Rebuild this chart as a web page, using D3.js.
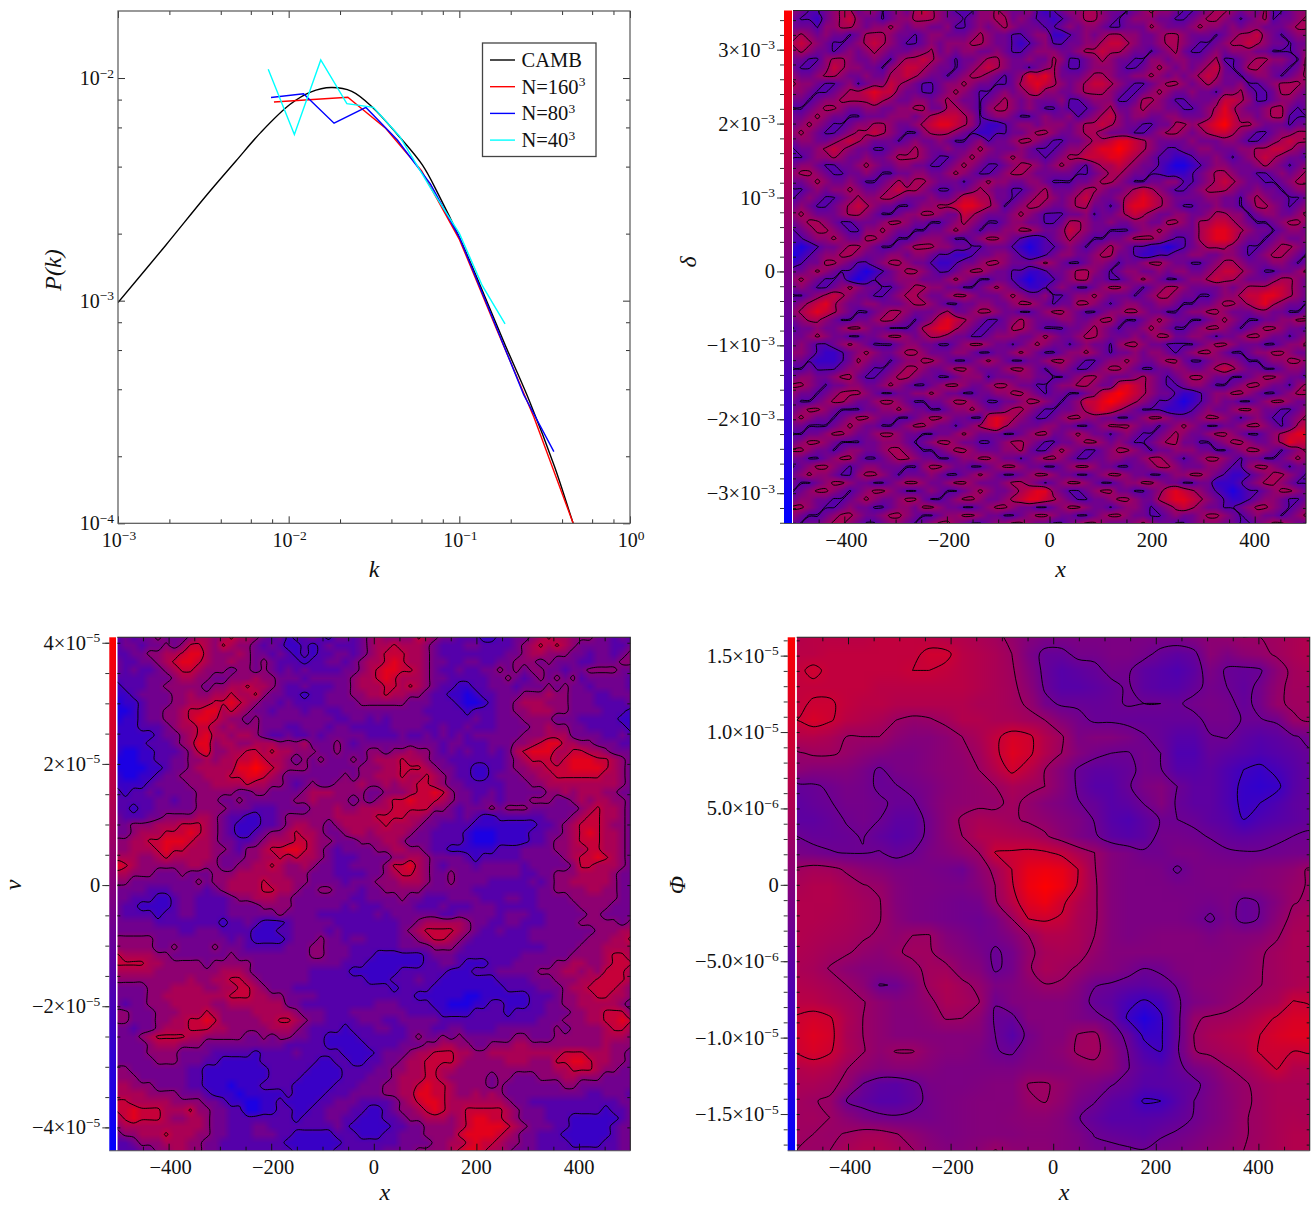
<!DOCTYPE html>
<html>
<head>
<meta charset="utf-8">
<script src="https://cdn.jsdelivr.net/npm/d3@7"></script>
<style>
  body { margin: 0; background: #fff; }
  svg { display: block; }
  text { font-family: "Liberation Serif", serif; fill: #111; }
</style>
</head>
<body>
<script>
// power spectrum curves
const kCamb = [0.001, 0.0019, 0.00332, 0.00491, 0.00687, 0.01016, 0.01343, 0.01774, 0.02344, 0.03105, 0.04335, 0.0607, 0.0759, 0.1002, 0.1325, 0.1853, 0.2588, 0.362, 0.4656, 0.506];
const pCamb = [9.8e-4, 1.77e-3, 2.99e-3, 4.24e-3, 5.7e-3, 7.6e-3, 8.64e-3, 9.06e-3, 8.71e-3, 7.38e-3, 5.58e-3, 4.07e-3, 2.97e-3, 1.92e-3, 1.17e-3, 6.34e-4, 3.51e-4, 1.79e-4, 9.95e-5, 8.3e-5];
const k160 = [0.0082, 0.0222, 0.0371, 0.06, 0.1002, 0.1656, 0.274, 0.4656, 0.506];
const p160 = [7.8e-3, 8.2e-3, 5.93e-3, 3.84e-3, 1.88e-3, 7.43e-4, 2.99e-4, 9.95e-5, 8.3e-5];
const k80 = [0.00788, 0.01222, 0.01845, 0.02835, 0.04335, 0.0678, 0.1002, 0.1567, 0.2383, 0.358];
const p80 = [8.17e-3, 8.5e-3, 6.27e-3, 7.38e-3, 5.27e-3, 3.34e-3, 1.92e-3, 8.36e-4, 3.78e-4, 2.1e-4];
const k40 = [0.00759, 0.0108, 0.01542, 0.02193, 0.0314, 0.0446, 0.0678, 0.1002, 0.1361, 0.1853];
const p40 = [1.096e-2, 5.58e-3, 1.205e-2, 7.67e-3, 7.38e-3, 5.48e-3, 3.21e-3, 2.0e-3, 1.17e-3, 7.87e-4];
const legendNames = ["CAMB", "N=160", "N=80", "N=40"];
const legendSups = ["", "3", "3", "3"];

const xTicks = [-400, -200, 0, 200, 400];

// density field, one digit per cell, top row first (0 = scale minimum, 9 = scale maximum)
const deltaMin = -3.41e-3, deltaMax = 3.53e-3;
const deltaLevels = [-1e-3, 1e-3];
const deltaTicks = [3e-3, 2e-3, 1e-3, 0, -1e-3, -2e-3, -3e-3];
const deltaTickBases = ["3×10", "2×10", "10", "0", "−1×10", "−2×10", "−3×10"];
const deltaTickSups = ["−3", "−3", "−3", "", "−3", "−3", "−3"];
const deltaRows = [
"5433456645534546765433355654453234556654434565543345665454633455",
"4332456754434556665443455664543323456654345554433456654345634456",
"4443556654556545544533454565444334545543344465444565545455444566",
"5654544346665443455444565443345522345456655445665444345667543455",
"6765433456765433454555665443234533445567765445665433456676544344",
"5654434545654445564545544543345554456676654434564334545554433345",
"4433566544543566765434456654454465334565443355455445633456655436",
"4334576554435677654434567654434564334555433456545456743466544346",
"5445665445446676544345665434587864445665445565454567644345543456",
"6554334534557654334556544334678765456776543345665456544533456665",
"5543345667877544334565433454567554456665433456544544355643346654",
"4434556666765445545654434565454445334555334665433444577653345544",
"3345665445544556644665435665454334333456445655443345686544566434",
"4456544334445554567776534554334544534567545544554445787554566333",
"4565433455665445678876532234554555456676544334466567897665444344",
"5654334566765433566654322334456654456654443345665456776543345566",
"4554456765444345445433453445665433445667887654444544455433456766",
"3445676544334556544544565444543334556788987654334455444556677654",
"3345565445445666543345654456544345667778876543322344543456765443",
"4554334456544554433456543345665456543566765443211234554445654345",
"5665433445433445544565433456654444433456654433222345665443345456",
"4456544543345656654443456554455433344566543344553345676544334566",
"3345455654456766543344565443345644456654456765433456665445443455",
"3454334565566544454457766443456654567544567876544445544356544334",
"4543345676544334556678876534566544566443478876543344544346654345",
"5654445665433455665447654445654333445344567654455445665534554456",
"4566543344456654433456543345544334665445445544665466776543345665",
"3456654335565443344565434455665445765443334556544467887654434554",
"3345565446654334555433456654322345654334456665433467887544345445",
"2123445665433456665544334443212334543456543322123456665433456654",
"1234556654445545543322344554322345544566443223344554455434566543",
"2344665433456654432234456654445654334554344566544334566544455434",
"4456543321234566543345665443322344566543455445455445677654334456",
"5654334212344555444565433443212234566443345654334556766544456654",
"4543345654433456655443345654322345433456654345665444454566677654",
"3345676544334566544566544456544533455654443456654433455677887654",
"4567865445544456654334455445665434466543455445543344566567865443",
"5678765433456654445644566544334566543345566544334556654445544334",
"4566543344566543457876543345654445544566433456544334565433445566",
"3445445665443334678865433446654333445654344565433456654345665443",
"4456544334456654566544334555445654456654445456644554344566544345",
"4543345654333455443345665443456544345443566544333345665444334556",
"5543223456544566544455433445654334556543445455434566543345566544",
"4432223465443455665433456543344566543345565445664334555433455665",
"3343334554334566544566544456654345433456654334455445676544334554",
"4554456643345665443345553444554433456654445654345665443345665443",
"6654344554456543345665445665443345566544787654334554334566544356",
"5443456665433445565443344556654344334578987654432234556654334566",
"4334566544566543344566543344566543457789876543321234544334566544",
"4566543334455654433455654456654334456787654333222345445665443345",
"5654434566544334566544337876543345665544334566544456654345433456",
"4433345654433456654434567865444554433456665443456543344566543467",
"3344566544566544334456544433456644565443454334565445665433456788",
"4566543334455543456654433456654334456654543345664433456654456877",
"6654434554456654334566544455643356543345665434455544334566543456",
"4433456643345665443345566544345665433445544566543456654344334565",
"3456654345544433566544334566544334566544334456654445543356654344",
"4565543356654344454334565433456654433456654433455665432234566543",
"4334566544334566544566544456654345665433455665443344222345665433",
"3456654345665433454334565445678854334566443345787654321233456654",
"4554433456544566433456654456788765433445665446788765432234554334",
"6654334544334554665443345665443345665443455434567654433456654345",
"5433456654456654334556654433456654433456654433454456654345443456",
"4344566543345543456654334556654433456654445654433455544334566544"
];

// velocity field, one digit per cell, top row first
const velocityMin = -4.385e-5, velocityMax = 4.09e-5;
const velocityLevels = [-2e-5, 0, 2e-5];
const velocityTicks = [4e-5, 2e-5, 0, -2e-5, -4e-5];
const velocityTickBases = ["4×10", "2×10", "0", "−2×10", "−4×10"];
const velocityTickSups = ["−5", "−5", "", "−5", "−5"];
const velocityRows = [
"3434454445665676654342334324434565555765443332233445676655544343",
"3443445457765765543432232343334566766654333443333456767654444334",
"3344556678865556544343232334434567776654333333334456655544344345",
"4334456788765565545433323344345667876654433443344555454443344455",
"4343345677655545545434343333445678877654334334454545544344555544",
"3333444566554455565544434444456678766654433333445434545453444443",
"2333445555545566766543343334456667767654332233444344454544344443",
"2234444556556676675443323344455667665543322123344455565544433444",
"1223444556667787654434333344445555554443332112344566655544433334",
"1123445567788676544344434433444444444433333233344556665544443332",
"1223445567887655454444444443344343444443333343344455554443333322",
"2223334566776565554443344434433333444433433433344445565544333332",
"2222234456786656654334334344444333343343434344444455566644443343",
"2222333456885665566655564445434444444444344333444556788665544433",
"2112233345785566776766555445444554556554343433434678886677665444",
"1112233445565667787665454544454566676654433333334567776788877654",
"1111223445666668898765554444445556677765443322334556677788887654",
"2112234455566677887654444444545566676676543322344455667777776654",
"2222344445556666766554345445556556566776544333334445566666666654",
"3233434444555554455444456665555445556778754433434444455656665544",
"3333344344555445444444556555545456778777654434434445554456566554",
"3323344444555544433344445556556666777775543444545554444445676654",
"4333445555665433223345555556666677776654443432233333344456776654",
"4455566677765432223345665545666667666544333322222222334567776554",
"4456667778765432234556766544566566665443333211122223344567876654",
"5566778887665443345666776554445556654443333211122223345567776654",
"5566678776665543556778876543444455665543322222233344445566776654",
"6665567666665444556676766543334444556654444323333344444567787654",
"8765555556655445566765565443344445778654344434444434444457766654",
"6655544454445556666665554443333445677654454444444433445556666544",
"5544444444545566667666554444344455566654454444333334345566666544",
"4444333444434566667766544554443445555544444433333333445555665544",
"4433322344333345566655444444433444454433344443334433444455555544",
"4332222344333344445555444444343334444333433344433333444445555444",
"4333323344333344444454444333333343444444334444434443344444554444",
"4444433333333233432223444443333333344566666544334433344445555545",
"4444444433444333322233444434333333345677776543343334444444455566",
"5555544444444434322223444544344333344567765433333334444444555667",
"5555544544445444333334445544433333344445554333333333344445556666",
"7666655444444454444444445544433322222234443333333344444455556776",
"7777665555545555544444444444333222222233443222333444445566556777",
"6666655555555666544444443333322222233333322233344444555665657776",
"5555555556556677654444443333333222333433222222233334445556677776",
"4444555666655667765444333333333333233332222222223333444566777765",
"4444556666666677766554444333333333333222222112222223334556677665",
"4344555666665566666664433333333344433332211122332223344556666654",
"5544455566676555566666544433344444443333222233332333344455667775",
"5544455667787555556677654433334443344444333333333333444555667787",
"4434456667776655555666543333233344334443344333344444445455556776",
"4445677776655555445455443322223333334544545444444554445555556665",
"4444566655544444444443333322222333344455665544555665555555556555",
"4444555544443333323333433333222234445667776655666666666777666554",
"4444455544433222223333333223322334456677776555556665557788766554",
"5544444443322222222333332222333344556677665555555555556677765544",
"5554444443322222222333322222333444566677655555455444555665554444",
"6655544443322212223333222223334445566787765555454444444554444444",
"6666555544432221222223222233344445566887765565654444444444334443",
"7766666555544322112232222334443333456788766666665443333333333344",
"7787776667554433112233223344433223455678766777776544433333332334",
"6787776556654433333333233344332223345566656788776544433322222234",
"5666666666654433344333333334322222334455556788887654443322222344",
"4556667666554433344433222223332223344455557888876544333222222344",
"3345556665544333333332222222333333344445566787765544333322223344",
"3334455665544333333333222223333334444555567887665444333333333344"
];

// potential field in units of 1e-6, top row first
const phiMin = -17.4, phiMax = 16.2;
const phiLevels = [-9, -3, 3, 9];
const phiTicks = [15, 10, 5, 0, -5, -10, -15];
const phiTickBases = ["1.5×10", "1.0×10", "5.0×10", "0", "−5.0×10", "−1.0×10", "−1.5×10"];
const phiTickSups = ["−5", "−5", "−6", "", "−6", "−5", "−5"];
const phiRows = [
[6,7,7,7,7,8,8,8,7,6,6,5,4,2,0,-1,-1,-1,-1,-1,-1,-1,-1,-1,0,1,2,3,3,4,5,6],
[7,7,8,8,8,8,8,8,10,10,7,6,5,3,-1,-4,-4,-2,-2,-1,-1,-2,-4,-5,-4,1,-1,1,2,3.5,5,6],
[8,10,8,8,8,8,8,9,9,8,7,6,5,3.5,0,-4,-6,-5,-4,-2,-2.5,-5,-6,-7,-5,-1,-3.5,-4,-3.5,1,4,5],
[8,8,8,8,8,7,7,7,7,7,7,6,5,4,1,-3.5,-6,-6,-5,-4,-2.5,-5,-6,-6,-4,-2,-3,-4.5,-2,2,4,4],
[8,9.5,9.5,8,7,7,6,6,6,6,6,5,5,4,2.5,-2,-3.5,-3.5,-4,-3.5,-2.8,-3,-3,-3.5,-2,-1.5,-2,-4,-2,2.5,3.5,4],
[9,11,9.5,7,6,5,3,2,2.5,4,6,6,5,5,4,3,0,-2,-3.5,-3.5,-4,-4,-4,-4,-4,-2,-2,-3.2,-3.2,-2.5,2.5,3.5],
[6,6,5,3,3,3,1,0,0,1,3,5,8,11,10,6,3.5,-1,0,0,-1,-2.8,-4,-6,-6,-3.2,-2.8,-5,-6,-5,-3.5,-2],
[2.5,3.5,3.5,2.5,1,0,-1,-1,0,1,2,4,8,12,10,6,3,0,-2,-3,-3.2,-2,-3,-7,-7,-4,-5,-6,-7,-6,-5,-3.5],
[1,0,0,0,-1.5,-3.5,-1.5,-1,0,1,1.5,3,6,10,7,3,0,-3.5,-5,-5,-4,-2,-2.8,-6,-6,-5,-7,-9,-10,-8,-6,-4],
[-4,-3.5,-2.5,-1.5,-2,-3.5,-3.2,-2,-1,0.5,1.5,2,3,5,4,3,0,-3.5,-6,-6,-3.5,-1,0,-3,-5,-5,-7,-10,-11,-10,-6,-4],
[-5,-4,-3.2,-2,-2,-2.5,-3.5,-3.5,-1,1,1.5,2,2,4,2,0,-1,-2.8,-4,-6,-5,-2.8,0,-3.5,-5,-5,-7,-10,-9,-7,-5,-4],
[-5,-5,-4,-2.8,-2,-3,-5,-5,-2,1,3.5,5,4.5,3.5,2.5,1.5,0,-1,-3.2,-6,-7,-5,-2.8,-3,-3.5,-5,-6,-9,-7,-6,-5,-4],
[-3,-4,-4,-3.5,-2.8,-4.5,-6,-5,-2,1,3,6,6,5.5,5,3.5,1,-1,-2.5,-5,-6,-5,-2,-2,-2.5,-3.2,-4.5,-5,-4.5,-3.5,-3,-2.5],
[-1.5,-2,-2.8,-3.2,-3.2,-2.8,-4,-3,-1,0,1.5,3,9.2,9.5,10,9.5,8,5,3,0,-1,-2.5,-2.5,-1,-1,-2,-2.5,-2.8,-2.8,-2.5,-2,-2],
[3.5,4.5,4,2.5,1,0,-1,-1,-1.5,-2,-3,1,4,9,13,14,13,9,3.2,0,-1,-1,-1.5,-3.5,-1.5,-1,-1,-1,0,0.5,1.5,3.5],
[5,6,6,4.5,3.2,2.5,0,-1,-1,-1.5,-1.5,0,3,8.5,14,16,14,8.5,3.5,0,-1,-1,-1,-1.5,-1.5,-1,-1,0,0,1,2.5,3.2],
[6,6,6,5,4,3.2,0,-1,-1.5,-2,-2.5,-2,2.5,7,12,14,10,6,3.5,0,-1,-1,-1,-1,-1.5,-2,-1,-4,-2.8,0,2.8,3.5],
[6,6,5.5,5,4,3.2,0.5,-1,-1.5,-2,-2.5,-3,-1.5,3,9,9.5,8.5,5,3.5,0,-1,-1,-1,-1,-2,-3.5,-1.5,-4,-2.8,1,4,5],
[6,5.5,5,4.5,3.5,2.5,1.5,3,3.2,0,-1,-2.5,-2,0,3,6,6,5,3,0,-1,-0.5,0,0,0,-1,0,0,0.5,2.5,5,5],
[5.5,5,4,3.5,2,1,2.5,3.8,3.5,1,0,-1.5,-3.5,-2,2,4.5,5,4.5,2,0,0,0,0,0,0,0,0,1,2.5,4,5,5],
[5,4.5,2.8,1,0,0,0.5,2,4,4,1,0,-3.5,-2,2.5,5,4,2.5,0.5,0,-1.5,-3,-2.5,-0.5,0,0,0.5,1.5,2.8,4,5,5],
[6,5.5,4.5,3,1,-3.2,-2.8,0,4,5.5,4,2,-1,-0.5,1,2.8,2.5,0,-2.8,-3.5,-4.5,-5,-4,-2.8,0,0.5,1,2,2.9,4,5,6],
[7,7,5.5,4.5,3.2,1.5,0,0.5,2,5,4.5,3.2,-2.8,-0.5,0,0,0,-1,-4,-5,-8,-9.5,-8,-3.5,-1,0,1.5,3,4,5,9.2,8.5],
[9.5,10.5,9.5,5.5,3,1.5,0,0,1,3.2,3,1,-3.5,-4,0,0,0,-1,-2,-3.5,-9.5,-13,-9.5,-4,2.5,3.5,4,5,7,9.5,11,11],
[10,12,10.5,5,3,1.5,0,0,0,0,0,0,-3,-6,-2,0,0,3.2,4,-1,-4,-10,-9.5,-4,3,5,6,7,9,11,12,12],
[9.5,11,9.5,5.5,3.2,1.5,3.2,3.2,1,0,0,-1,-2.8,-3.5,-1,0,1,3.5,4,1,-3,-7,-9,-3.5,2.8,4,5,6,9.5,9.5,9,9.5],
[6,7,6,3.2,1.5,0,0.5,0.5,0,-1,-1,-1,-1,-1,0,0,0,1,2,1,-2.8,-5,-6,-4,-1.5,0,2.8,4,6,9.4,6,6],
[5,5,4,2,-3.2,-5,-5.5,-4,-1.5,-1,-1,-0.5,0,0,3.2,3.4,2,0,-1,-2.8,-4,-6,-5.5,-5,-4,-1.5,1,2.5,4,5,5,5],
[4,3.2,2.5,-3,-4.5,-6,-6,-4.5,-2,-1,-0.5,0,0,0,2.5,3.2,1.5,-1.5,-2.8,-5,-6,-9.5,-9,-6,-3,-1,0.5,2.5,3.5,5,5,5],
[3.5,4,3,1,-1,-2,-2.5,-2,-2,-1,-0.5,0,0,0.5,1,1,0,-2.8,-4.5,-6,-6,-6,-5.5,-4.5,-2.8,-1,0.5,2.8,3.5,5,5.5,5],
[3.5,3,2.5,3.2,4.5,4.5,3.2,1.5,0,-1,-0.5,0,0,0,0.5,0.5,0,-1,-3.2,-4,-4.5,-5,-3.5,-2.5,-1.5,0,1,2.8,3.5,5,6,6],
[3,2.8,3,5,6,6,5,3.2,1,0,0,1,3.2,1.5,1,1,0,-0.5,-2,-2,-2.5,-2.8,-1.5,-1,0,1,2,3,4,5,6,6]
];

const digitGrid = (rows, lo, hi) => {
  const nx = d3.min(rows, (r) => r.length);
  const digit = d3.scaleLinear([0, 9], [lo, hi]);
  return { nx, ny: rows.length, values: rows.flatMap((r) => Array.from(r.slice(0, nx), (c) => digit(+c))) };
};
const numberGrid = (rows, unit) => ({
  nx: rows[0].length,
  ny: rows.length,
  values: rows.flat().map((v) => v * unit),
});

const width = 1312;
const height = 1207;
const svg = d3.select("body").append("svg").attr("width", width).attr("height", height);
const defs = svg.append("defs");

const labelText = (selection, bases, sups, size) => {
  selection.each(function (_, i) {
    const t = d3.select(this).text(bases[i]).attr("font-size", size).attr("fill", "#111");
    if (sups[i]) t.append("tspan").attr("font-size", 13.5).attr("dy", -7.5).text(sups[i]);
  });
};

const noDomain = (g) => g.call((s) => s.select(".domain").remove());

// ---- power spectrum panel ----
const specBox = { left: 118, right: 630, top: 11, bottom: 523.3 };
const kScale = d3.scaleLog([1e-3, 1], [specBox.left, specBox.right]);
const pScale = d3.scaleLog([1e-4, 0.02], [specBox.bottom, specBox.top]);
const spec = svg.append("g").attr("class", "spectrum");

defs.append("clipPath").attr("id", "clip-spec").append("rect")
  .attr("x", specBox.left).attr("y", specBox.top)
  .attr("width", specBox.right - specBox.left).attr("height", specBox.bottom - specBox.top);

const specSeries = [
  { k: kCamb, p: pCamb, color: "#000", curve: d3.curveCatmullRom.alpha(0.5) },
  { k: k160, p: p160, color: "#f00", curve: d3.curveLinear },
  { k: k80, p: p80, color: "#00f", curve: d3.curveLinear },
  { k: k40, p: p40, color: "#0ff", curve: d3.curveLinear },
];
spec.append("g").attr("clip-path", "url(#clip-spec)")
  .selectAll("path").data(specSeries).join("path")
  .attr("fill", "none")
  .attr("stroke", (d) => d.color)
  .attr("stroke-width", 1.4)
  .attr("d", (d) => d3.line().curve(d.curve).x((e) => kScale(e[0])).y((e) => pScale(e[1]))(d3.zip(d.k, d.p)));

const kDecades = [1e-3, 1e-2, 1e-1, 1];
const pDecades = [1e-4, 1e-3, 1e-2];
const minorOf = (decades) => decades.flatMap((d) => [2, 4, 6, 8].map((m) => m * d));
const kMinor = minorOf([1e-3, 1e-2, 1e-1]);
const pMinor = minorOf(pDecades).filter((d) => d < 0.02);

const specAxes = [
  [d3.axisBottom(kScale), `translate(0 ${specBox.bottom})`, kDecades, kMinor],
  [d3.axisTop(kScale), `translate(0 ${specBox.top})`, kDecades, kMinor],
  [d3.axisLeft(pScale), `translate(${specBox.left} 0)`, pDecades, pMinor],
  [d3.axisRight(pScale), `translate(${specBox.right} 0)`, pDecades, pMinor],
];
specAxes.forEach(([axis, tr, major, minor]) => {
  spec.append("g").attr("transform", tr).attr("color", "#333")
    .call(axis.tickValues(major).tickSize(-7).tickFormat(""))
    .call(noDomain);
  spec.append("g").attr("transform", tr).attr("color", "#333")
    .call(axis.tickValues(minor).tickSize(-4).tickFormat(""))
    .call(noDomain);
});

spec.selectAll("text.kl").data(kDecades).join("text").attr("class", "kl")
  .attr("x", (d) => kScale(d) + 1).attr("y", specBox.bottom + 24)
  .attr("text-anchor", "middle")
  .call(labelText, kDecades.map(() => "10"), ["−3", "−2", "−1", "0"], 20);
spec.selectAll("text.pl").data(pDecades).join("text").attr("class", "pl")
  .attr("x", specBox.left - 4).attr("y", (d) => pScale(d) + 7)
  .attr("text-anchor", "end")
  .call(labelText, pDecades.map(() => "10"), ["−4", "−3", "−2"], 20);

spec.append("rect")
  .attr("x", specBox.left).attr("y", specBox.top)
  .attr("width", specBox.right - specBox.left).attr("height", specBox.bottom - specBox.top)
  .attr("fill", "none").attr("stroke", "#555").attr("stroke-width", 1.2);

spec.append("text").attr("x", 374).attr("y", 577).attr("text-anchor", "middle")
  .attr("font-style", "italic").attr("font-size", 24).text("k");
spec.append("text").attr("transform", "translate(61 270) rotate(-90)").attr("text-anchor", "middle")
  .attr("font-style", "italic").attr("font-size", 24).text("P(k)");

const legend = spec.append("g").attr("transform", "translate(482.5 43)");
legend.append("rect").attr("width", 113.5).attr("height", 113.5)
  .attr("fill", "#fff").attr("stroke", "#444").attr("stroke-width", 1.3);
const legendRow = legend.selectAll("g").data(specSeries).join("g")
  .attr("transform", (_, i) => `translate(0 ${17 + i * 26.7})`);
legendRow.append("line").attr("x1", 7.5).attr("x2", 32.5)
  .attr("stroke", (d) => d.color).attr("stroke-width", 1.4);
legendRow.append("text").attr("x", 39).attr("y", 7)
  .call(labelText, legendNames, legendSups, 20.5);

// ---- field panels ----
function drawField(opts) {
  const { grid, box, domain, levels, ticks, bases, sups, minor, title, titleX, barLeft, barRight, name } = opts;
  const { nx, ny, values } = grid;
  const g = svg.append("g").attr("class", name);
  const color = d3.scaleLinear().domain(domain).range(["#0000ff", "#ff0000"]);

  // cell centres of the outer rows and columns sit on the plot edge
  const gx = d3.scaleLinear([0.5, nx - 0.5], [box.left, box.right]);
  const gy = d3.scaleLinear([0.5, ny - 0.5], [box.top, box.bottom]);
  const x = d3.scaleLinear([-500, 500], [box.left, box.right]);
  const y = d3.scaleLinear(domain, [box.bottom, box.top]);

  const canvas = document.createElement("canvas");
  canvas.width = nx;
  canvas.height = ny;
  const ctx = canvas.getContext("2d");
  values.forEach((v, i) => {
    ctx.fillStyle = color(v);
    ctx.fillRect(i % nx, Math.floor(i / nx), 1, 1);
  });

  defs.append("clipPath").attr("id", `clip-${name}`).append("rect")
    .attr("x", box.left).attr("y", box.top)
    .attr("width", box.right - box.left).attr("height", box.bottom - box.top);

  const plot = g.append("g").attr("clip-path", `url(#clip-${name})`);
  plot.append("image")
    .attr("href", canvas.toDataURL())
    .attr("x", gx(0)).attr("y", gy(0))
    .attr("width", gx(nx) - gx(0)).attr("height", gy(ny) - gy(0))
    .attr("preserveAspectRatio", "none");

  const contours = d3.contours().size([nx, ny]).smooth(true).thresholds(levels)(values);
  const ringLine = d3.line().curve(d3.curveCatmullRomClosed.alpha(0.5))
    .x((p) => gx(p[0])).y((p) => gy(p[1]));
  plot.append("g").selectAll("path").data(contours).join("path")
    .attr("fill", "none").attr("stroke", "#000").attr("stroke-width", 0.95)
    .attr("d", (c) => c.coordinates.flat().map((ring) => ringLine(ring.slice(0, -1))).join(""));

  // colour bar on the left of the plot
  const gradId = `grad-${name}`;
  const grad = defs.append("linearGradient").attr("id", gradId)
    .attr("x1", 0).attr("x2", 0).attr("y1", 1).attr("y2", 0);
  grad.append("stop").attr("offset", 0).attr("stop-color", color(domain[0]));
  grad.append("stop").attr("offset", 1).attr("stop-color", color(domain[1]));
  g.append("rect").attr("x", barLeft).attr("y", box.top)
    .attr("width", barRight - barLeft).attr("height", box.bottom - box.top)
    .attr("fill", `url(#${gradId})`);
  g.append("rect").attr("x", barRight).attr("y", box.top)
    .attr("width", box.left - barRight).attr("height", box.bottom - box.top)
    .attr("fill", "#fff");

  const xMinor = d3.range(-450, 500, 50).filter((d) => d % 200 !== 0);
  [[d3.axisBottom(x), box.bottom], [d3.axisTop(x), box.top]].forEach(([axis, pos]) => {
    g.append("g").attr("transform", `translate(0 ${pos})`).attr("color", "#111")
      .call(axis.tickValues(xTicks).tickSize(-7).tickFormat("")).call(noDomain);
    g.append("g").attr("transform", `translate(0 ${pos})`).attr("color", "#111")
      .call(axis.tickValues(xMinor).tickSize(-4).tickFormat("")).call(noDomain);
  });

  // ticks stick out left of the bar and point in from both plot edges
  g.append("g").attr("transform", `translate(${barLeft} 0)`).attr("color", "#333")
    .call(d3.axisLeft(y).tickValues(ticks).tickSize(7).tickFormat("")).call(noDomain);
  g.append("g").attr("transform", `translate(${barLeft} 0)`).attr("color", "#333")
    .call(d3.axisLeft(y).tickValues(minor).tickSize(4).tickFormat("")).call(noDomain);
  g.append("g").attr("transform", `translate(${box.left} 0)`).attr("color", "#111")
    .call(d3.axisRight(y).tickValues(minor).tickSize(3).tickFormat("")).call(noDomain);
  g.append("g").attr("transform", `translate(${box.right} 0)`).attr("color", "#111")
    .call(d3.axisLeft(y).tickValues(minor).tickSize(3).tickFormat("")).call(noDomain);

  g.append("path")
    .attr("d", `M${box.left} ${box.top}H${box.right}V${box.bottom}`)
    .attr("fill", "none").attr("stroke", "#222").attr("stroke-width", 1.1);
  g.append("path")
    .attr("d", `M${barLeft} ${box.bottom}H${box.right}`)
    .attr("fill", "none").attr("stroke", "#555").attr("stroke-width", 1.1);

  g.selectAll("text.xl").data(xTicks).join("text").attr("class", "xl")
    .attr("x", (d) => x(d) + (d < 0 ? 2 : 0)).attr("y", box.bottom + 23.5)
    .attr("text-anchor", "middle")
    .call(labelText, xTicks.map((d) => (d < 0 ? `−${-d}` : `${d}`)), xTicks.map(() => ""), 20.5);
  g.selectAll("text.yl").data(ticks).join("text").attr("class", "yl")
    .attr("x", barLeft - 9).attr("y", (d) => y(d) + 7)
    .attr("text-anchor", "end")
    .call(labelText, bases, sups, 20.5);

  g.append("text").attr("x", (box.left + box.right) / 2 + 11).attr("y", box.bottom + opts.xLabelGap)
    .attr("text-anchor", "middle").attr("font-style", "italic").attr("font-size", 24).text("x");
  g.append("text").attr("transform", `translate(${titleX} ${opts.titleY}) rotate(-90)`)
    .attr("text-anchor", "middle").attr("font-style", "italic").attr("font-size", 24).text(title);
}

drawField({
  name: "delta", title: "δ", titleX: 696, titleY: 262, xLabelGap: 53,
  grid: digitGrid(deltaRows, deltaMin, deltaMax),
  box: { left: 793, right: 1306, top: 10.5, bottom: 523.5 },
  barLeft: 784, barRight: 792,
  domain: [deltaMin, deltaMax], levels: deltaLevels,
  ticks: deltaTicks, bases: deltaTickBases, sups: deltaTickSups,
  minor: d3.range(-34, 36, 2).map((d) => d * 1e-4),
});

drawField({
  name: "velocity", title: "v", titleX: 21, titleY: 885, xLabelGap: 49.5,
  grid: digitGrid(velocityRows, velocityMin, velocityMax),
  box: { left: 117.3, right: 630.3, top: 637.3, bottom: 1150.7 },
  barLeft: 109.3, barRight: 116,
  domain: [velocityMin, velocityMax], levels: velocityLevels,
  ticks: velocityTicks, bases: velocityTickBases, sups: velocityTickSups,
  minor: d3.range(-8, 9).map((d) => d * 5e-6),
});

drawField({
  name: "phi", title: "Φ", titleX: 685, titleY: 885, xLabelGap: 49.5,
  grid: numberGrid(phiRows, 1e-6),
  box: { left: 796.7, right: 1309.7, top: 637.3, bottom: 1150.7 },
  barLeft: 787.7, barRight: 795.3,
  domain: [phiMin * 1e-6, phiMax * 1e-6], levels: phiLevels.map((d) => d * 1e-6),
  ticks: phiTicks.map((d) => d * 1e-6), bases: phiTickBases, sups: phiTickSups,
  minor: d3.range(-17, 17).map((d) => d * 1e-6),
});
</script>
</body>
</html>
